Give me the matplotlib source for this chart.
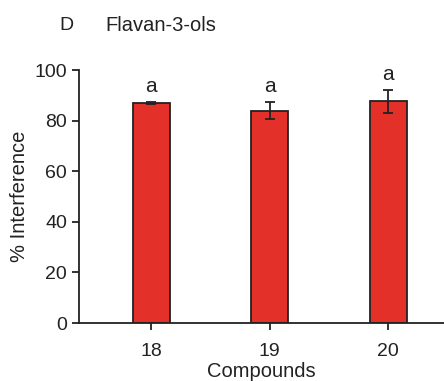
import numpy as np
import matplotlib
matplotlib.use('Agg')
import matplotlib.pyplot as plt

plt.rcParams['font.family'] = ['Liberation Sans', 'DejaVu Sans']

# datos
compuestos = ['18', '19', '20']
interferencia = [87.0, 84.0, 87.6]
error = [0.5, 3.5, 4.5]
letras = ['a', 'a', 'a']

fig = plt.figure(figsize=(4.44, 3.81), dpi=100)
ax = fig.add_axes([0.178, 0.152, 0.822, 0.664])

x = np.arange(len(compuestos))
ax.bar(x, interferencia, width=0.31, color='#e3312a', edgecolor='#222222', linewidth=1.3,
       yerr=error, error_kw=dict(ecolor='#222222', elinewidth=1.3, capsize=3.5, capthick=1.3))

for xi, v, e, l in zip(x, interferencia, error, letras):
    ax.text(xi, v + e + 2.3, l, ha='center', va='bottom', fontsize=15, color='#222222')

ax.set_xlim(-0.61, 2.47)
ax.set_ylim(0, 100)
ax.set_xticks(x)
ax.set_xticklabels(compuestos)
ax.set_yticks([0, 20, 40, 60, 80, 100])
ax.tick_params(direction='out', length=5, width=1.3, labelsize=14, colors='#222222')
ax.tick_params(axis='x', pad=9)
for s in ['top', 'right']:
    ax.spines[s].set_visible(False)
for s in ['left', 'bottom']:
    ax.spines[s].set_linewidth(1.3)
    ax.spines[s].set_color('#222222')

ax.set_xlabel('Compounds', fontsize=14.5, color='#222222', labelpad=2)
ax.set_ylabel('% Interference', fontsize=14.5, color='#222222', labelpad=4)

fig.text(0.133, 0.934, 'D', fontsize=14, color='#222222', va='center')
fig.text(0.237, 0.934, 'Flavan-3-ols', fontsize=14.5, color='#222222', va='center')

plt.savefig('out.png', dpi=100)
